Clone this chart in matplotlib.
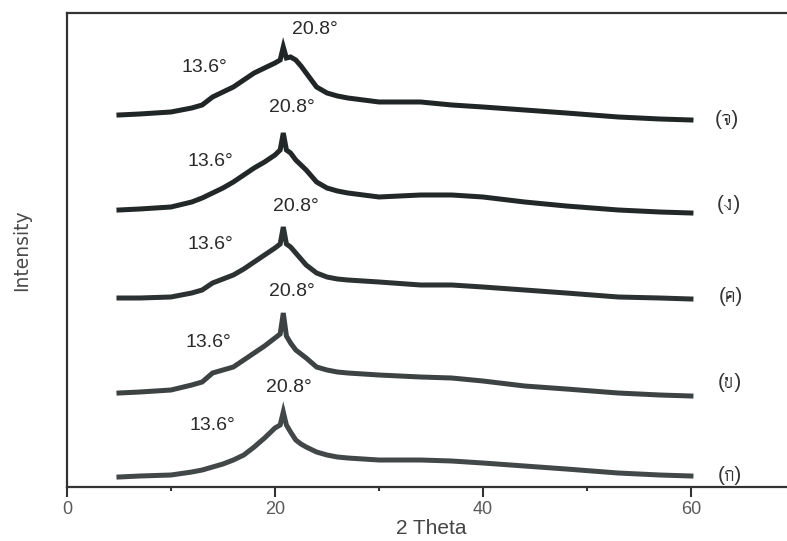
import matplotlib
matplotlib.use("Agg")
import matplotlib.pyplot as plt
from matplotlib import font_manager
from matplotlib.ft2font import FT2Font
from matplotlib.ticker import MultipleLocator

# 2 theta grid (deg), shared by all five traces
theta = [5, 7, 10, 12, 13, 14, 15, 16, 17, 18, 19, 20, 20.5, 20.8, 21.1, 21.5,
         22, 22.5, 23, 24, 25, 26, 27, 30, 34, 37, 40, 44, 48, 53, 57, 60]

# stacked intensities (a.u.), bottom trace first
int_ko = [10, 11, 12, 15, 17, 20, 23, 27, 32, 40, 49, 59, 62, 75, 62, 55,
          47, 43, 40, 35, 32, 30, 29, 27, 27, 26, 24, 21, 18, 14, 12, 11]
int_kho = [94, 95, 97, 102, 105, 114, 117, 120, 127, 134, 141, 149, 153, 174, 151, 144,
           137, 133, 129, 120, 117, 115, 114, 112, 110, 109, 106, 101, 98, 94, 92, 91]
int_kho2 = [189, 189, 190, 194, 197, 204, 208, 212, 218, 225, 232, 239, 243, 260, 243, 240,
            234, 228, 222, 214, 210, 208, 207, 205, 202, 202, 200, 197, 194, 190, 189, 188]
int_ngo = [277, 278, 280, 285, 289, 294, 299, 305, 312, 319, 325, 332, 337, 354, 337, 334,
           327, 322, 317, 305, 299, 296, 294, 290, 292, 292, 290, 285, 281, 277, 275, 274]
int_cho = [372, 373, 375, 379, 382, 390, 395, 400, 407, 414, 419, 424, 427, 440, 429, 430,
           427, 421, 414, 400, 394, 391, 389, 385, 385, 382, 380, 377, 374, 370, 368, 367]

traces = [int_ko, int_kho, int_kho2, int_ngo, int_cho]
sample_labels = ["(ก)", "(ข)", "(ค)", "(ง)", "(จ)"]
peak_labels = ["13.6°", "20.8°"]

# where the labels sit (deg, a.u.)
peak1_pos = [(14.0, 62), (13.6, 145), (13.75, 242), (13.75, 325), (13.2, 419)]
peak2_pos = [(21.3, 100), (21.6, 195), (22.0, 280), (21.6, 379), (23.8, 457)]
label_pos = [(63.7, 12), (63.7, 105), (63.8, 190), (63.6, 282), (63.5, 367)]


def find_thai_font():
    # look for any installed font that has Thai glyphs
    for path in font_manager.findSystemFonts():
        try:
            cmap = FT2Font(path).get_charmap()
        except Exception:
            continue
        if 0x0E01 in cmap and 0x0E08 in cmap:
            return font_manager.FontProperties(fname=path).get_name()
    return None


thai = find_thai_font()
families = ["Liberation Sans"] + ([thai] if thai else []) + ["DejaVu Sans"]
plt.rcParams["font.family"] = families

fig = plt.figure(figsize=(7.87, 5.41), dpi=100)
ax = fig.add_axes([0.0851, 0.0998, 0.925, 0.8762])

colors = ["#424747", "#3d4242", "#2c3131", "#222727", "#202525"]
for y, c in zip(traces, colors):
    ax.plot(theta, y, color=c, lw=3.6, solid_joinstyle="miter")

for (x, y) in peak1_pos:
    ax.text(x, y, peak_labels[0], fontsize=14, ha="center", va="center", color="#2a2a2a")
for (x, y) in peak2_pos:
    ax.text(x, y, peak_labels[1], fontsize=14, ha="center", va="center", color="#2a2a2a")
for (x, y), s in zip(label_pos, sample_labels):
    ax.text(x, y, s, fontsize=15, ha="center", va="center", color="#333333")

ax.set_xlim(0, 70)
ax.set_ylim(0, 474)
ax.xaxis.set_major_locator(MultipleLocator(20))
ax.xaxis.set_minor_locator(MultipleLocator(10))
ax.tick_params(axis="x", which="major", direction="out", length=7, width=1.5,
               labelsize=13, labelcolor="#5a5a5a", pad=3, color="#333333")
ax.tick_params(axis="x", which="minor", direction="out", length=3, width=1.5, color="#333333")
ax.set_yticks([])

for side in ["left", "top", "bottom"]:
    ax.spines[side].set_linewidth(1.6)
    ax.spines[side].set_color("#333333")
ax.spines["right"].set_visible(False)

ax.set_xlabel("2 Theta", fontsize=15, color="#444444", labelpad=1)
ax.set_ylabel("Intensity", fontsize=13.5, color="#4a4a4a", labelpad=26,
              family=["DejaVu Sans"])

fig.savefig("out.png", dpi=100)
